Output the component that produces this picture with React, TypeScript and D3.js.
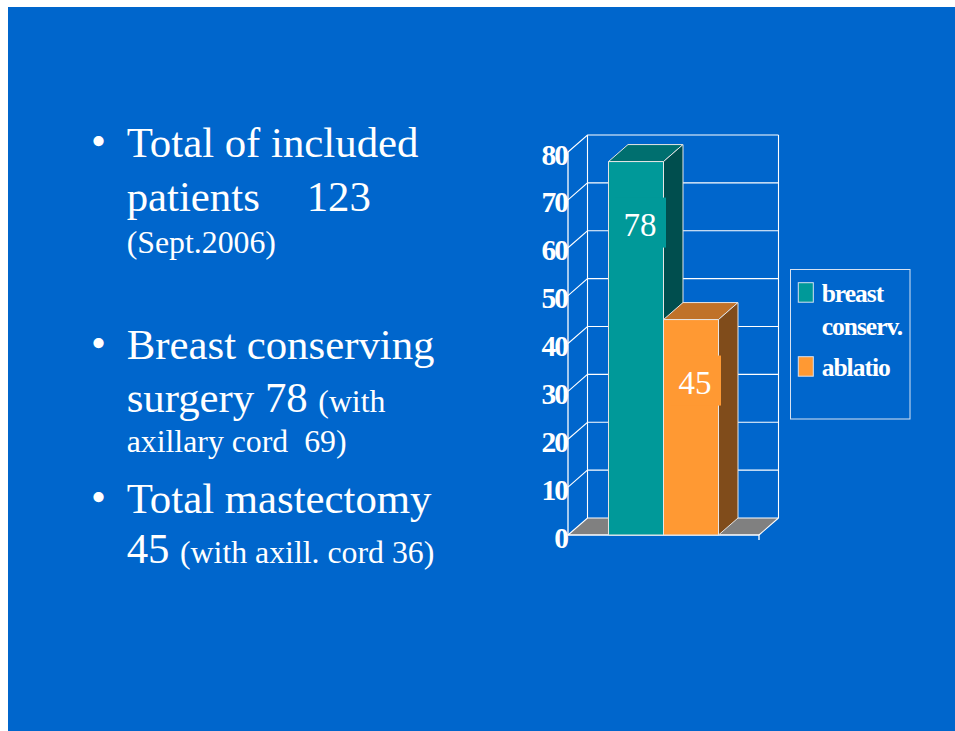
import React, { useEffect, useRef } from 'react';
import * as d3 from 'd3';

// chart data
const series = ['breast conserv.', 'ablatio'];
const values = [78, 45];
const legendLines = [['breast', 'conserv.'], ['ablatio']];
const yTicks = [0, 10, 20, 30, 40, 50, 60, 70, 80];

const W = 955;
const H = 731;
const BG = '#0066cc';
const SERIF = '"Liberation Serif", "Times New Roman", serif';

const fronts = ['#009999', '#ff9933'];
const tops = ['#006f6f', '#c07229'];
const sides = ['#004e4e', '#804c1b'];

// depth of the fake 3d
const DX = 19.5;
const DY = -17;

const App = () => {
  const ref = useRef<SVGSVGElement | null>(null);

  useEffect(() => {
    const svg = d3.select(ref.current);
    svg.selectAll('*').remove();

    svg.append('rect')
      .attr('x', 8).attr('y', 7)
      .attr('width', W - 8).attr('height', H - 7)
      .attr('fill', BG);

    // ---------- bullet text ----------
    const txt = svg.append('g')
      .attr('fill', '#fff')
      .style('font-family', SERIF);

    const big = 42.8, small = 31.8;
    const bullets = [157.3, 359.3, 512.7];
    bullets.forEach(b => {
      txt.append('text').attr('x', 91).attr('y', b - 2)
        .style('font-size', big + 'px').text('•');
    });

    const line = (x: number, y: number, s: string, size: number) =>
      txt.append('text').attr('x', x).attr('y', y)
        .style('font-size', size + 'px').style('white-space', 'pre').text(s);

    line(126.7, 157.3, 'Total of included', big);
    line(126.7, 210.7, 'patients', big);
    line(306.7, 210.7, '123', big);
    line(126.7, 253.3, '(Sept.2006)', small);

    line(126.7, 359.3, 'Breast conserving', big);
    line(126.7, 411.7, 'surgery 78', big);
    line(318.3, 411.7, '(with', small);
    line(126.7, 451.7, 'axillary cord  69)', small);

    line(126.7, 512.7, 'Total mastectomy', big);
    line(126.7, 563.3, '45', big);
    line(180, 563.3, '(with axill. cord 36)', small);

    // ---------- 3d column chart ----------
    const x0 = 568, x1 = 759;
    const y = d3.scaleLinear().domain([0, 80]).range([535, 152]);
    const x = d3.scaleBand<string>().domain(series).range([x0, x1]).paddingOuter(0.736).paddingInner(0);

    const g = svg.append('g');

    // floor
    g.append('path')
      .attr('d', `M${x0},${y(0)} L${x0 + DX},${y(0) + DY} L${x1 + DX},${y(0) + DY} L${x1},${y(0)} Z`)
      .attr('fill', '#808080');

    // grid on the back wall + diagonal side
    yTicks.forEach(t => {
      g.append('path')
        .attr('d', `M${x0},${y(t)} L${x0 + DX},${y(t) + DY} L${x1 + DX},${y(t) + DY}`)
        .attr('fill', 'none').attr('stroke', '#fff').attr('stroke-width', 1.1);
    });
    g.append('line')
      .attr('x1', x0 + DX).attr('x2', x0 + DX)
      .attr('y1', y(0) + DY).attr('y2', y(80) + DY)
      .attr('stroke', '#fff').attr('stroke-width', 1.1);
    g.append('line')
      .attr('x1', x1 + DX).attr('x2', x1 + DX)
      .attr('y1', y(0) + DY).attr('y2', y(80) + DY)
      .attr('stroke', '#fff').attr('stroke-width', 1.1);

    // front axis + floor edge
    g.append('path')
      .attr('d', `M${x0},${y(80)} L${x0},${y(0)} L${x1},${y(0)} L${x1},${y(0) + 5}`)
      .attr('fill', 'none').attr('stroke', '#fff').attr('stroke-width', 1.3);
    g.append('line')
      .attr('x1', x1).attr('y1', y(0)).attr('x2', x1 + DX).attr('y2', y(0) + DY)
      .attr('stroke', '#fff').attr('stroke-width', 1.1);

    // bars
    const bw = x.bandwidth();
    series.forEach((s, i) => {
      const bx = x(s) as number;
      const top = y(values[i]);
      const bot = y(0);
      const bar = g.append('g').attr('stroke', '#e6e6e6').attr('stroke-width', 1).attr('stroke-linejoin', 'round');
      bar.append('path')
        .attr('d', `M${bx},${top} L${bx + DX},${top + DY} L${bx + bw + DX},${top + DY} L${bx + bw},${top} Z`)
        .attr('fill', tops[i]);
      bar.append('path')
        .attr('d', `M${bx + bw},${top} L${bx + bw + DX},${top + DY} L${bx + bw + DX},${bot + DY} L${bx + bw},${bot} Z`)
        .attr('fill', sides[i]);
      bar.append('rect')
        .attr('x', bx).attr('y', top).attr('width', bw).attr('height', bot - top)
        .attr('fill', fronts[i]);
    });

    // value labels
    series.forEach((s, i) => {
      const cx = (x(s) as number) + bw / 2 + 4;
      const base = y(values[i]) + 74;
      g.append('rect')
        .attr('x', cx - 25).attr('y', base - 38)
        .attr('width', 51).attr('height', 50)
        .attr('fill', fronts[i]);
      g.append('text')
        .attr('x', cx).attr('y', base)
        .attr('text-anchor', 'middle')
        .attr('fill', '#fff')
        .style('font-family', SERIF).style('font-size', '33px')
        .text(values[i]);
    });

    // y labels
    yTicks.forEach(t => {
      g.append('text')
        .attr('x', 567).attr('y', y(t) + 12.5)
        .attr('text-anchor', 'end')
        .attr('fill', '#fff')
        .style('font-family', SERIF).style('font-size', '29.5px')
        .style('font-weight', 'bold').style('letter-spacing', '-2px')
        .text(t);
    });

    // legend
    const lg = svg.append('g');
    lg.append('rect')
      .attr('x', 790.5).attr('y', 269.5).attr('width', 119.5).attr('height', 149.5)
      .attr('fill', 'none').attr('stroke', '#d6e2f2').attr('stroke-width', 1);
    const swY = [282.7, 356.7];
    series.forEach((s, i) => {
      lg.append('rect')
        .attr('x', 798.3).attr('y', swY[i]).attr('width', 15).attr('height', 19.5)
        .attr('fill', fronts[i]).attr('stroke', '#d6e2f2').attr('stroke-width', 1);
      legendLines[i].forEach((l, j) => {
        lg.append('text')
          .attr('x', 821.7).attr('y', swY[i] + 19 + j * 33.3)
          .attr('fill', '#fff')
          .style('font-family', SERIF).style('font-size', '25.5px')
          .style('font-weight', 'bold').style('letter-spacing', '-1px')
          .text(l);
      });
    });
  }, []);

  return (
    <div style={{ position: 'fixed', left: 0, top: 0, width: W, height: H, background: '#fff' }}>
      <svg ref={ref} width={W} height={H} style={{ display: 'block' }} />
    </div>
  );
};

export default App;
